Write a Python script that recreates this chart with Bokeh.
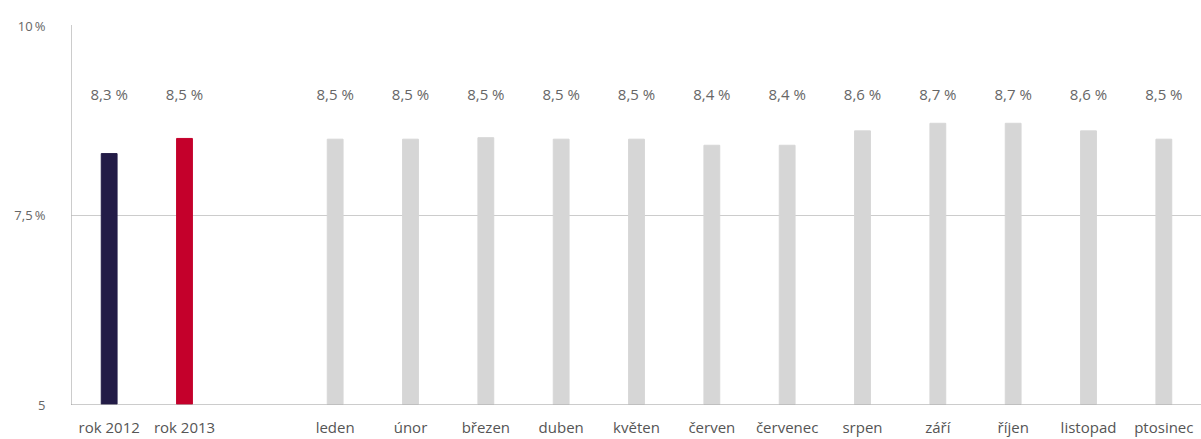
from bokeh.plotting import figure
from bokeh.models import ColumnDataSource, FactorRange, Range1d, FixedTicker
from bokeh.core.properties import value
from bokeh.embed import file_html
from bokeh.resources import INLINE

categories = ["rok 2012", "rok 2013", " ", "leden", "únor", "březen", "duben", "květen",
              "červen", "červenec", "srpen", "září", "říjen", "listopad", "ptosinec"]
values = [8.31, 8.51, None, 8.5, 8.5, 8.52, 8.5, 8.5, 8.42, 8.42, 8.61, 8.71, 8.71, 8.61, 8.5]
labels = ["8,3 %", "8,5 %", "", "8,5 %", "8,5 %", "8,5 %", "8,5 %",
          "8,5 %", "8,4 %", "8,4 %", "8,6 %", "8,7 %", "8,7 %", "8,6 %", "8,5 %"]
colors = ["#231c47", "#c4002b", "#ffffff"] + ["#d6d6d6"] * 12
y_ticks = [5, 7.5, 10]
y_tick_labels = ["5", "7,5\u2009%", "10\u2009%"]

FONT = "Open Sans"
LABEL_Y = 9.09

bar_cats = [c for c, v in zip(categories, values) if v is not None]
bar_vals = [v for v in values if v is not None]
bar_cols = [c for c, v in zip(colors, values) if v is not None]
bar_labels = [l for l, v in zip(labels, values) if v is not None]

src = ColumnDataSource(dict(x=bar_cats, top=bar_vals, color=bar_cols, label=bar_labels,
                            ly=[LABEL_Y] * len(bar_cats)))

p = figure(width=1201, height=439, x_range=FactorRange(*categories), y_range=Range1d(5, 10),
           output_backend="svg", toolbar_location=None,
           min_border_left=71, min_border_right=0, min_border_top=25, min_border_bottom=35)
p.outline_line_color = None

p.vbar(x="x", top="top", bottom=5, width=0.21, color="color", source=src)
p.text(x="x", y="ly", text="label", source=src, text_align="center", text_baseline="middle",
       text_font=value(FONT), text_font_size="15px", text_color="#666666")

p.xaxis.axis_line_color = "#999999"
p.xaxis.axis_line_dash = "1 1"
p.xaxis.major_tick_line_color = None
p.xaxis.minor_tick_line_color = None
p.xaxis.major_tick_out = 0
p.xaxis.minor_tick_out = 0
p.xaxis.major_label_text_font = FONT
p.xaxis.major_label_text_font_size = "15px"
p.xaxis.major_label_text_color = "#555555"
p.xaxis.major_label_standoff = 12

p.yaxis.ticker = FixedTicker(ticks=y_ticks)
p.yaxis.major_label_overrides = {t: l for t, l in zip(y_ticks, y_tick_labels)}
p.yaxis.axis_line_color = "#999999"
p.yaxis.axis_line_dash = "1 1"
p.yaxis.major_tick_line_color = None
p.yaxis.minor_tick_line_color = None
p.yaxis.major_label_text_font = FONT
p.yaxis.major_label_text_font_size = "13px"
p.yaxis.major_label_text_color = "#666666"
p.yaxis.major_label_text_baseline = "bottom"
p.yaxis.major_label_standoff = 20

p.xgrid.grid_line_color = None
p.ygrid.grid_line_color = "#999999"
p.ygrid.grid_line_dash = "1 1"

open("out.html", "w").write(file_html(p, INLINE))
